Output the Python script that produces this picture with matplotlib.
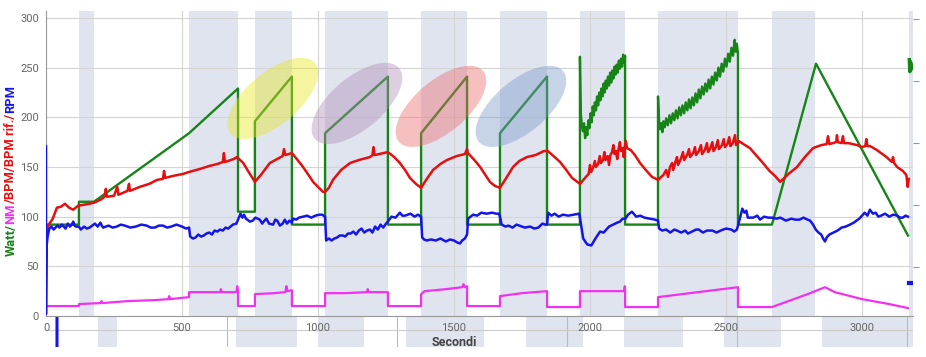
import matplotlib
matplotlib.use("Agg")
import matplotlib.pyplot as plt
import matplotlib.transforms as mtransforms
from matplotlib.patches import Ellipse

plt.rcParams['font.family'] = ['Roboto', 'DejaVu Sans']

# shaded intervals (seconds)
bands = [(121, 176), (526, 706), (768, 904), (1026, 1257), (1379, 1548),
         (1669, 1842), (1963, 2129), (2250, 2544), (2669, 2827), (3173, 3200)]

# Watt (green)
watt_s = [0, 121, 121, 176, 526, 706, 706, 768, 768, 904, 904, 1026, 1026, 1257, 1257,
          1379, 1379, 1548, 1548, 1669, 1669, 1842, 1842, 1963,
          1963, 1966, 1970, 1974, 1978, 1982, 1986, 1990, 1994, 1998, 2002, 2006, 2010,
          2014, 2018, 2022, 2026, 2030, 2034, 2038, 2042, 2046, 2050, 2054, 2058, 2062,
          2066, 2070, 2074, 2078, 2082, 2086, 2090, 2094, 2098, 2102, 2106, 2110, 2114,
          2118, 2122, 2126, 2129, 2129, 2250,
          2250, 2254, 2258, 2262, 2266, 2270, 2275, 2280, 2286, 2292, 2298, 2304, 2310,
          2316, 2322, 2328, 2334, 2340, 2346, 2352, 2358, 2364, 2370, 2376, 2382, 2388,
          2394, 2400, 2406, 2412, 2418, 2424, 2430, 2436, 2442, 2448, 2454, 2460, 2466,
          2472, 2478, 2484, 2490, 2496, 2502, 2508, 2514, 2520, 2526, 2532, 2536, 2540,
          2544, 2544, 2669, 2831, 3169]
watt_v = [92, 92, 115, 115, 184, 229, 105, 105, 196, 241, 92, 92, 184, 241, 92,
          92, 184, 241, 92, 92, 184, 241, 92, 92,
          261, 205, 192, 186, 194, 179, 190, 182, 197, 189, 204, 195, 211, 202,
          215, 207, 221, 212, 225, 217, 229, 221, 234, 225, 237, 229, 241, 232,
          245, 235, 247, 239, 251, 243, 253, 245, 257, 249, 259, 251, 263, 255, 262, 92, 92,
          221, 196, 188, 194, 185, 196, 190, 199, 192, 202, 194, 204, 197,
          207, 199, 210, 202, 212, 204, 215, 207, 218, 209, 220, 212, 224,
          215, 228, 219, 231, 223, 234, 226, 238, 229, 241, 233, 245, 237,
          250, 241, 254, 246, 259, 251, 264, 256, 270, 262, 278, 266, 274,
          264, 92, 92, 254, 81]
edge_watt_s = [3174, 3176, 3178, 3180, 3183, 3187]
edge_watt_v = [258, 246, 256, 248, 253, 250]

# NM (magenta)
nm_s = [0, 60, 121, 121, 200, 204, 208, 300, 400, 450, 453, 456, 526, 526, 600, 640, 643, 646,
        700, 703, 706, 706, 768, 768, 840, 880, 884, 888, 904, 904, 1026, 1026, 1100, 1180,
        1183, 1186, 1257, 1257, 1379, 1379, 1392, 1470, 1530, 1535, 1540, 1548, 1548,
        1669, 1669, 1750, 1842, 1842, 1963, 1963, 2125, 2128, 2129, 2129, 2250, 2250,
        2544, 2544, 2669, 2800, 2864, 2900, 3000, 3100, 3169]
nm_v = [10, 10, 10, 12, 13, 15, 13, 15, 16, 17, 20, 17, 19, 24, 24, 24, 27, 24,
        24, 30, 25, 10, 10, 22, 23, 24, 30, 25, 26, 10, 10, 23, 23, 24,
        27, 24, 24, 10, 10, 22, 25, 27, 29, 32, 29, 30, 10,
        10, 20, 23, 25, 9, 9, 25, 25, 30, 25, 9, 9, 19,
        29, 9, 9, 22, 29, 24, 17, 12, 8]

# BPM (red)
bpm_s = [0, 10, 25, 40, 55, 70, 85, 100, 118, 140, 160, 176, 200, 215, 220, 224, 250, 262, 266,
         283, 300, 305, 309, 345, 380, 408, 430, 434, 438, 467, 504, 526, 566, 600, 630, 650,
         654, 658, 690, 702, 706, 725, 745, 768, 790, 823, 850, 870, 875, 880, 904, 925, 945,
         965, 982, 1000, 1018, 1026, 1040, 1055, 1085, 1118, 1150, 1191, 1200, 1204, 1208,
         1257, 1280, 1301, 1320, 1338, 1360, 1379, 1400, 1423, 1450, 1474, 1510, 1540, 1548,
         1551, 1575, 1596, 1615, 1632, 1650, 1669, 1690, 1717, 1740, 1768, 1800, 1830, 1845,
         1870, 1890, 1910, 1934, 1963, 1985, 1995, 2000, 2004, 2011, 2018, 2022, 2030, 2036,
         2040, 2048, 2053, 2057, 2065, 2070, 2075, 2081, 2086, 2090, 2096, 2100, 2105, 2110,
         2114, 2120, 2124, 2128, 2132, 2136, 2150, 2165, 2184, 2205, 2228, 2250, 2270, 2280,
         2287, 2294, 2302, 2306, 2315, 2320, 2324, 2335, 2342, 2346, 2357, 2364, 2368, 2379,
         2386, 2390, 2400, 2408, 2412, 2422, 2430, 2434, 2441, 2450, 2454, 2463, 2470, 2474,
         2485, 2492, 2496, 2505, 2512, 2516, 2525, 2533, 2537, 2548, 2570, 2588, 2610, 2636,
         2660, 2680, 2699, 2730, 2761, 2790, 2820, 2850, 2870, 2875, 2880, 2893, 2905, 2908,
         2911, 2925, 2930, 2934, 2950, 2982, 3000, 3012, 3016, 3020, 3030, 3055, 3090, 3110,
         3114, 3118, 3129, 3150, 3163, 3168, 3172]
bpm_v = [82, 92, 98, 109, 110, 113, 109, 107, 111, 112, 113, 114, 117, 120, 128, 120, 121, 130, 122,
         124, 126, 133, 126, 130, 133, 137, 138, 146, 139, 141, 143, 145, 148, 151, 153, 155,
         164, 155, 158, 160, 159, 154, 145, 135, 142, 154, 158, 161, 168, 162, 164, 157, 150,
         142, 135, 130, 125, 125, 129, 137, 147, 154, 157, 160, 162, 170, 162,
         165, 160, 154, 147, 139, 133, 129, 138, 147, 153, 157, 161, 163, 168,
         164, 157, 150, 142, 135, 131, 129, 138, 150, 156, 160, 162, 166, 166,
         160, 155, 148, 139, 133, 140, 143, 152, 145, 149, 156, 150, 153, 161,
         154, 157, 165, 157, 161, 152, 162, 165, 172, 163, 166, 158, 168, 175,
         166, 169, 160, 171, 176, 169, 167, 162, 154, 147, 140, 137, 142, 147,
         140, 150, 154, 147, 156, 160, 152, 159, 165, 157, 162, 168, 160, 164,
         170, 162, 166, 172, 163, 167, 174, 165, 168, 175, 166, 170, 177, 168,
         172, 178, 170, 173, 180, 171, 174, 182, 172, 176, 172, 169, 162, 154,
         146, 141, 135, 143, 150, 160, 169, 172, 173, 181, 173, 174, 175, 182,
         175, 174, 181, 174, 174, 172, 170, 171, 178, 171, 171, 167, 160, 155,
         160, 154, 150, 146, 142, 130, 138]

# RPM (blue)
rpm_s = [0, 0, 2, 6, 12, 20, 28, 35, 42, 50, 58, 65, 72, 80, 88, 95, 100, 105, 110, 121, 128,
         140, 150, 160, 170, 180, 190, 200, 205, 210, 220, 230, 245, 260, 275, 290, 310, 330,
         350, 370, 385, 400, 415, 430, 445, 460, 480, 500, 515, 526, 530, 540, 550, 560, 570,
         580, 590, 600, 610, 620, 630, 640, 650, 660, 670, 687, 700, 706, 715, 722, 728, 735,
         740, 750, 760, 770, 786, 795, 800, 810, 820, 835, 843, 850, 860, 870, 878, 886, 895,
         904, 908, 920, 930, 945, 960, 975, 990, 1005, 1015, 1026, 1030, 1040, 1050, 1060,
         1070, 1080, 1092, 1100, 1110, 1120, 1130, 1140, 1150, 1160, 1170, 1180, 1191, 1200,
         1210, 1220, 1230, 1240, 1250, 1257, 1270, 1285, 1301, 1310, 1320, 1340, 1355, 1367,
         1379, 1383, 1390, 1400, 1415, 1433, 1450, 1470, 1485, 1500, 1512, 1522, 1530, 1540,
         1548, 1552, 1570, 1585, 1600, 1620, 1640, 1655, 1665, 1669, 1675, 1690, 1700, 1715,
         1730, 1740, 1760, 1780, 1795, 1810, 1825, 1835, 1842, 1846, 1858, 1870, 1885, 1900,
         1920, 1940, 1960, 1963, 1975, 1990, 2005, 2020, 2037, 2050, 2070, 2085, 2100, 2110,
         2120, 2130, 2140, 2154, 2170, 2185, 2200, 2220, 2239, 2250, 2254, 2265, 2280, 2295,
         2310, 2320, 2335, 2350, 2360, 2375, 2390, 2400, 2415, 2430, 2450, 2465, 2480, 2500,
         2520, 2530, 2540, 2548, 2560, 2568, 2575, 2580, 2600, 2615, 2625, 2640, 2655, 2670,
         2685, 2700, 2720, 2740, 2755, 2770, 2785, 2800, 2809, 2820, 2830, 2840, 2850, 2857,
         2864, 2870, 2880, 2895, 2910, 2925, 2940, 2956, 2970, 2990, 3000, 3010, 3020, 3029,
         3040, 3050, 3060, 3070, 3085, 3100, 3115, 3130, 3140, 3150, 3160, 3169]
rpm_v = [171, 2, 70, 80, 88, 90, 87, 89, 91, 89, 92, 90, 88, 93, 90, 92, 95, 91, 90, 90, 87,
         90, 88, 89, 91, 93, 90, 94, 91, 89, 90, 91, 89, 90, 92, 91, 89, 90,
         92, 91, 89, 89, 91, 91, 89, 90, 92, 90, 88, 89, 80, 78, 79, 82, 80,
         81, 83, 84, 82, 86, 85, 87, 86, 89, 88, 92, 93, 97, 103, 99, 102, 98,
         97, 95, 96, 99, 97, 93, 95, 98, 93, 92, 97, 96, 91, 93, 97, 93, 96,
         94, 98, 97, 99, 100, 101, 99, 101, 102, 102, 100, 76, 78, 76, 78,
         79, 81, 81, 80, 83, 83, 85, 82, 86, 88, 84, 86, 87, 84,
         90, 87, 92, 89, 93, 95, 100, 99, 104, 101, 101, 103, 100, 102,
         100, 79, 77, 76, 77, 76, 78, 75, 77, 76, 74, 73, 76, 78,
         82, 98, 102, 101, 104, 103, 104, 103, 103, 100, 92, 90, 91, 89,
         92, 91, 89, 90, 88, 89, 93, 92, 92, 104, 101, 103, 100, 102,
         101, 102, 103, 99, 78, 72, 71, 78, 85, 84, 90, 92, 94, 95,
         98, 98, 102, 105, 100, 101, 99, 98, 97, 96, 88, 86, 87, 84,
         87, 86, 84, 86, 83, 85, 87, 87, 84, 86, 86, 84, 86, 88,
         87, 85, 87, 95, 108, 104, 106, 99, 99, 101, 97, 100, 99, 99,
         98, 99, 96, 98, 97, 97, 99, 97, 96, 92, 87, 84, 82, 78,
         75, 79, 82, 84, 86, 89, 90, 92, 94, 98, 101, 104, 101, 107,
         103, 104, 100, 101, 103, 100, 102, 101, 99, 99, 101, 100]
edge_rpm_s = [3174, 3187]
edge_rpm_v = [33, 33]

# highlighted intervals: (centre seconds, centre value, colour)
ellipse_s = [834, 1143, 1452, 1746]
ellipse_v = [219, 214, 211, 211]
ellipse_c = ['#e8e81e', '#b08cba', '#ee6a6a', '#7a98c8']

band_col = '#dfe4ef'
grid_col = '#d4d4d4'
green, red, blue, mag = '#178417', '#e60f0f', '#1515e8', '#f032f0'

fig = plt.figure(figsize=(9.26, 3.57), dpi=100)
W, H = 926, 357
ax = fig.add_axes([46 / W, (H - 316) / H, 867 / W, 305 / H])
ax2 = fig.add_axes([46 / W, (H - 347) / H, 867 / W, 30 / H])
ax.set_zorder(3)
ax2.set_zorder(1)

# main panel
xmax = 867 * 500 / 136
ax.set_xlim(0, xmax)
ax.set_ylim(0, 307)
for a, b in bands:
    ax.axvspan(a, b, color=band_col, lw=0, zorder=0)
ax.set_yticks(range(0, 301, 50))
ax.set_xticks(range(0, 3001, 500))
ax.grid(True, color=grid_col, lw=0.8, zorder=1)
ax.set_axisbelow(True)
ax.tick_params(length=0, labelsize=8, colors='#666666', pad=5)
for sp in ['top', 'right']:
    ax.spines[sp].set_visible(False)
for sp in ['left', 'bottom']:
    ax.spines[sp].set_color('#999999')
    ax.spines[sp].set_linewidth(0.8)

ax.plot(nm_s, nm_v, color=mag, lw=1.6, zorder=3)
ax.plot(watt_s, watt_v, color=green, lw=1.7, zorder=4)
ax.plot(edge_watt_s, edge_watt_v, color=green, lw=2.5, zorder=4)
ax.plot(bpm_s, bpm_v, color=red, lw=1.8, zorder=5)
ax.plot(rpm_s, rpm_v, color=blue, lw=1.8, zorder=6)
ax.plot(edge_rpm_s, edge_rpm_v, color=blue, lw=3, zorder=6)

for cs, cv, cc in zip(ellipse_s, ellipse_v, ellipse_c):
    tr = fig.dpi_scale_trans + mtransforms.ScaledTranslation(cs, cv, ax.transData)
    ax.add_patch(Ellipse((0, 0), 1.1, 0.52, angle=40, transform=tr,
                         facecolor=cc, edgecolor='none', alpha=0.42, zorder=7))

# right-side tick marks
ax3 = ax.twinx()
ax3.set_ylim(0.206, 5.13)
ax3.set_yticks([1, 2, 3, 4, 5])
ax3.set_yticklabels([])
ax3.tick_params(length=4, color='#999999', width=0.8)
for sp in ax3.spines.values():
    sp.set_visible(False)

# lower navigator strip
ax2.set_xlim((46 - 57) / 0.34, (913 - 57) / 0.34)
ax2.set_ylim(110, 160)
for a, b in bands:
    ax2.axvspan(a, b, color=band_col, lw=0, zorder=0)
ax2.set_xticks(range(500, 2501, 500))
ax2.grid(True, axis='x', color='#bbbbbb', lw=0.8)
ax2.axhline(139, color='#cccccc', lw=0.8)
ax2.plot(rpm_s, rpm_v, color=blue, lw=2.2, zorder=3)
ax2.set_yticks([])
ax2.tick_params(axis='x', length=0, labelbottom=False)
for sp in ax2.spines.values():
    sp.set_visible(False)

fig.text(454 / W, (H - 342) / H, 'Secondi', ha='center', va='center',
         fontsize=9, fontweight='bold', color='#444444')

# multi-coloured y label
parts = [('Watt/', green), ('NM', mag), ('/BPM/BPM rif./', red), ('RPM', blue)]
fig.canvas.draw()
r = fig.canvas.get_renderer()
y = (H - 256) / H
for txt, col in parts:
    t = fig.text(11 / W, y, txt, rotation=90, color=col, ha='center', va='bottom',
                 fontsize=9.3, fontweight='bold')
    bb = t.get_window_extent(r)
    y += bb.height / H

fig.savefig('out.png', dpi=100)
